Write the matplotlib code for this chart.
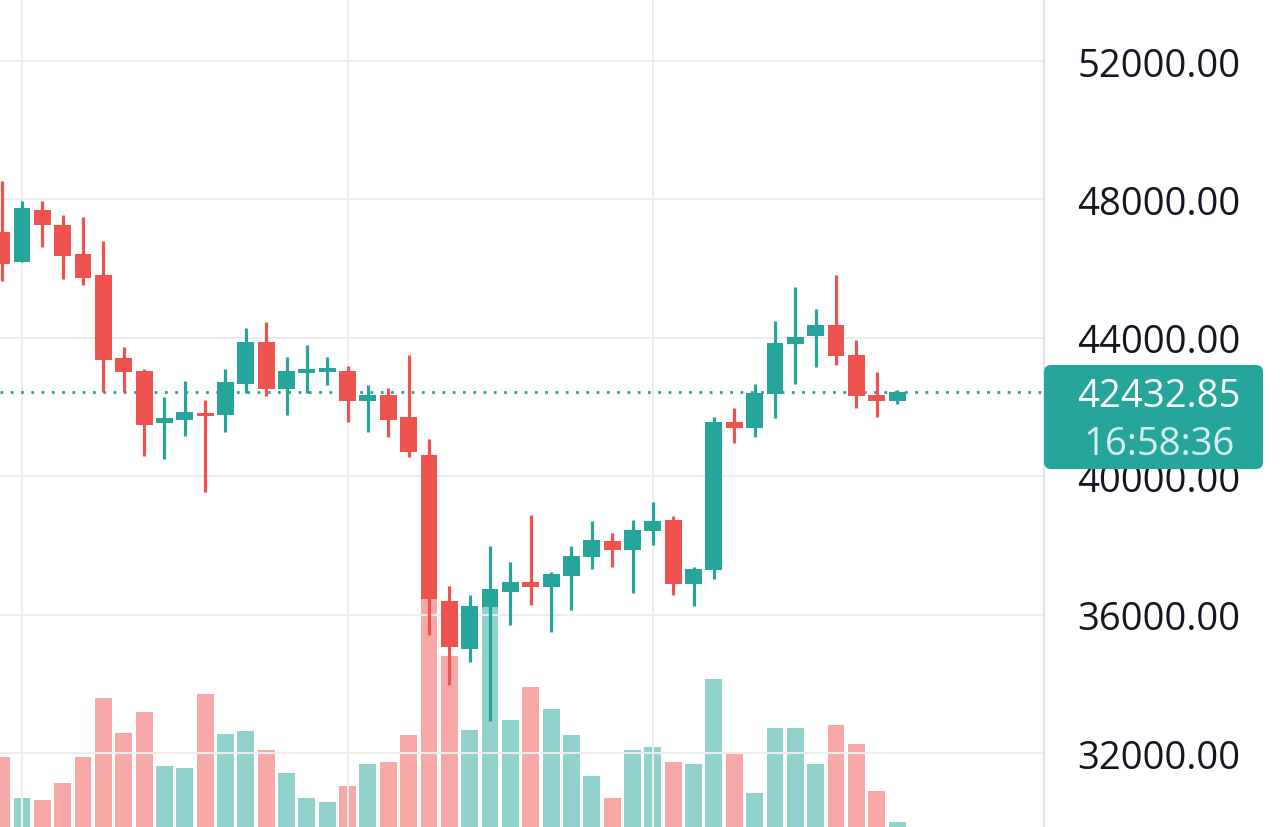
import numpy as np
import matplotlib
matplotlib.use('Agg')
from matplotlib import pyplot as plt
from matplotlib.patches import FancyBboxPatch
from matplotlib.transforms import IdentityTransform

# daily candles
opens = [47060, 46190, 47690, 47260, 46420, 45810, 43420, 43040, 41540, 41630,
         41830, 41770, 42670, 43880, 42520, 42980, 43010, 43040, 42170, 42350,
         41710, 40610, 36390, 35010, 36220, 36650, 36940, 36800, 37120, 37670,
         38130, 37870, 38420, 38740, 36890, 37290, 41570, 41390, 42380, 43820,
         44050, 44370, 43500, 42350, 42170]
highs = [48530, 47950, 47950, 47550, 47490, 46800, 43730, 43100, 42290, 42750,
         42200, 43100, 44280, 44460, 43450, 43790, 43450, 43190, 42640, 42550,
         43500, 41080, 36830, 36570, 37980, 37520, 38880, 37230, 37980, 38710,
         38360, 38740, 39260, 38850, 37380, 41710, 41970, 42670, 44490, 45470,
         44830, 45820, 43940, 43010, 42490]
lows = [45640, 46190, 46620, 45700, 45530, 42430, 42430, 40580, 40500, 41160,
        39540, 41280, 42400, 42320, 41770, 42400, 42640, 41570, 41280, 41130,
        40560, 35410, 33970, 34630, 32930, 35700, 36280, 35500, 36130, 37320,
        37380, 36630, 38010, 36570, 36250, 37030, 40960, 41130, 41680, 42670,
        43160, 43210, 41970, 41710, 42090]
closes = [46130, 47750, 47260, 46360, 45730, 43360, 43010, 41480, 41680, 41860,
          41740, 42720, 43880, 42520, 43040, 43100, 43130, 42170, 42350, 41630,
          40700, 36450, 35070, 36250, 36740, 36940, 36800, 37170, 37690, 38160,
          37870, 38450, 38710, 36890, 37320, 41570, 41390, 42400, 43850, 44020,
          44370, 43470, 42320, 42170, 42432.85]
volumes = [7.0, 2.9, 2.7, 4.4, 7.0, 12.9, 9.4, 11.5, 6.1, 5.9,
           13.3, 9.3, 9.6, 7.7, 5.4, 2.9, 2.5, 4.1, 6.3, 6.5,
           9.2, 23.0, 17.1, 9.7, 22.0, 10.7, 14.0, 11.8, 9.2, 5.1,
           2.9, 7.7, 8.0, 6.5, 6.3, 14.8, 7.3, 3.4, 9.9, 9.9,
           6.3, 10.2, 8.3, 3.6, 0.5]
price_ticks = [32000, 36000, 40000, 44000, 48000, 52000]
day_grid = [1, 17, 32]
last_price = 42432.85
countdown = '16:58:36'

UP = '#26a69a'
DOWN = '#ef5350'
UP_VOL = '#92d2cc'
DOWN_VOL = '#f7a9a8'
GRID = '#ededed'
TXT = '#131722'
FONT = 'Open Sans'

x = np.arange(len(opens))
o = np.array(opens, float)
c = np.array(closes, float)
up = c >= o
col = np.where(up, UP, DOWN)
vcol = np.where(up, UP_VOL, DOWN_VOL)

W, H = 1280, 828
pane_w = 1044 / W
fig = plt.figure(figsize=(W / 100, H / 100), dpi=100)
fig.patch.set_facecolor('white')

# volume pane sits under the price pane
vol_ax = fig.add_axes([0, 0, pane_w, 1])
vol_ax.bar(x, volumes, width=0.83, color=vcol, linewidth=0)
vol_ax.set_ylim(0, max(volumes) * 3.6)
vol_ax.axis('off')

ax = fig.add_axes([0, 0, pane_w, 1], sharex=vol_ax)
ax.set_zorder(2)
ax.patch.set_visible(False)

ax.vlines(x, lows, highs, colors=col, linewidth=2.3, zorder=3)
body_lo = np.minimum(o, c)
body_h = np.maximum(np.abs(c - o), 70)
ax.bar(x, body_h, bottom=body_lo, width=0.83, color=col, linewidth=0, zorder=4)

ax.axhline(last_price, color=UP, linewidth=2, linestyle=(0, (1, 2.7)), zorder=2)

ax.set_xlim(-0.08, 51.22)
ax.set_ylim(29862, 53792)
ax.set_xticks(day_grid)
ax.set_yticks(price_ticks)
ax.set_yticklabels([f'{p:.2f}' for p in price_ticks], fontfamily=FONT)
ax.grid(True, color=GRID, linewidth=1.4, zorder=0)
ax.tick_params(axis='x', length=0, labelbottom=False)
ax.tick_params(axis='y', length=0, left=False, labelleft=False, right=False,
               labelright=True, pad=24, labelsize=27.5, labelcolor=TXT)
for s in ['top', 'left', 'bottom']:
    ax.spines[s].set_visible(False)
ax.spines['right'].set_color('#e0e3eb')
ax.spines['right'].set_linewidth(1.5)

# last price tag on the scale
fig.canvas.draw()
ly = ax.transData.transform((0, last_price))[1]
tag = FancyBboxPatch((1044, ly - 77), 219, 104,
                     boxstyle='round,pad=0,rounding_size=7',
                     transform=IdentityTransform(), facecolor=UP,
                     edgecolor='none', zorder=5)
fig.add_artist(tag)
fig.text(1159, ly - 4, f'{last_price:.2f}', transform=IdentityTransform(),
         ha='center', va='center', color='white', fontsize=27.5,
         fontfamily=FONT, zorder=6)
fig.text(1159, ly - 52, countdown, transform=IdentityTransform(),
         ha='center', va='center', color='white', alpha=0.82, fontsize=27.5,
         fontfamily=FONT, zorder=6)

fig.savefig('out.png', dpi=100)
